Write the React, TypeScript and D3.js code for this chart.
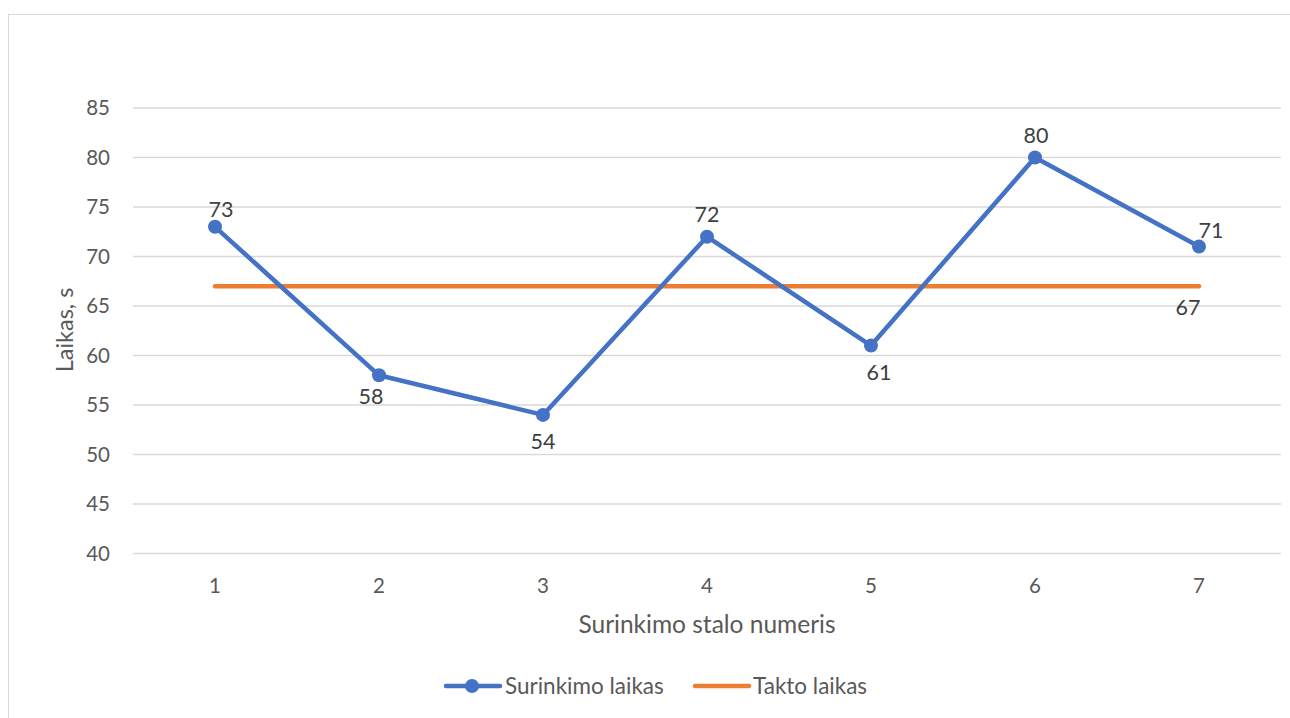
import React from "react";
import * as d3 from "d3";

const categories: string[] = ["1", "2", "3", "4", "5", "6", "7"];
const assemblyTimes: number[] = [73, 58, 54, 72, 61, 80, 71];
const taktTimes: number[] = [67, 67, 67, 67, 67, 67, 67];
const yTicks: number[] = [40, 45, 50, 55, 60, 65, 70, 75, 80, 85];
const seriesNames: string[] = ["Surinkimo laikas", "Takto laikas"];
const xTitle = "Surinkimo stalo numeris";
const yTitle = "Laikas, s";

// label placement for each point of the assembly series
const labelPlacement: { dx: number; dy: number }[] = [
  { dx: 6, dy: -17 },
  { dx: -8, dy: 21 },
  { dx: 0, dy: 27 },
  { dx: 0, dy: -22 },
  { dx: 8, dy: 27 },
  { dx: 1, dy: -22 },
  { dx: 12, dy: -16 },
];

const W = 1290;
const H = 718;
const FONT = "Lato, 'Open Sans', sans-serif";
const TEXT = "#595959";
const LABEL = "#404040";
const BLUE = "#4472C4";
const ORANGE = "#ED7D31";

export default function App() {
  const plotLeft = 133;
  const plotRight = 1281;
  const x = d3.scaleBand<string>().domain(categories).range([plotLeft, plotRight]);
  const cx = (c: string) => (x(c) ?? 0) + x.bandwidth() / 2;
  const y = d3.scaleLinear().domain([40, 85]).range([553.5, 108]);

  const lineGen = d3
    .line<number>()
    .x((_, i) => cx(categories[i]))
    .y((d) => y(d));

  const taktEnd = categories.length - 1;

  return (
    <svg
      width={W}
      height={H}
      style={{ position: "absolute", left: 0, top: 0, background: "#fff" }}
      fontFamily={FONT}
    >
      <rect x={8.5} y={14.5} width={W + 20} height={H + 20} fill="#fff" stroke="#d9d9d9" strokeWidth={1} />

      {/* gridlines */}
      {yTicks.map((t) => (
        <line key={t} x1={plotLeft} x2={plotRight} y1={y(t)} y2={y(t)} stroke="#d9d9d9" strokeWidth={1.3} />
      ))}

      {/* y tick labels */}
      {yTicks.map((t) => (
        <text key={"yl" + t} x={110} y={y(t)} dy="0.35em" textAnchor="end" fontSize={20.5} fill={TEXT}>
          {t}
        </text>
      ))}

      {/* x tick labels */}
      {categories.map((c) => (
        <text key={"xl" + c} x={cx(c)} y={586} dy="0.35em" textAnchor="middle" fontSize={20.5} fill={TEXT}>
          {c}
        </text>
      ))}

      {/* axis titles */}
      <text x={707} y={624} dy="0.35em" textAnchor="middle" fontSize={24.5} fill={TEXT}>
        {xTitle}
      </text>
      <text
        transform={`translate(65,330) rotate(-90)`}
        dy="0.35em"
        textAnchor="middle"
        fontSize={23.5}
        fill={TEXT}
      >
        {yTitle}
      </text>

      {/* takt time line */}
      <path d={lineGen(taktTimes) ?? ""} fill="none" stroke={ORANGE} strokeWidth={4.5} strokeLinecap="round" />
      <text
        x={cx(categories[taktEnd]) - 11}
        y={y(taktTimes[taktEnd]) + 21}
        dy="0.35em"
        textAnchor="middle"
        fontSize={21.5}
        fill={LABEL}
      >
        {taktTimes[taktEnd]}
      </text>

      {/* assembly time line */}
      <path
        d={lineGen(assemblyTimes) ?? ""}
        fill="none"
        stroke={BLUE}
        strokeWidth={4.5}
        strokeLinejoin="round"
        strokeLinecap="round"
      />
      {assemblyTimes.map((v, i) => (
        <circle key={"p" + i} cx={cx(categories[i])} cy={y(v)} r={7} fill={BLUE} />
      ))}
      {assemblyTimes.map((v, i) => (
        <text
          key={"lab" + i}
          x={cx(categories[i]) + labelPlacement[i].dx}
          y={y(v) + labelPlacement[i].dy}
          dy="0.35em"
          textAnchor="middle"
          fontSize={21.5}
          fill={LABEL}
        >
          {v}
        </text>
      ))}

      {/* legend */}
      <g>
        <line x1={446} x2={500} y1={686} y2={686} stroke={BLUE} strokeWidth={4.5} strokeLinecap="round" />
        <circle cx={472} cy={686} r={7} fill={BLUE} />
        <text x={505} y={686} dy="0.35em" fontSize={22.5} fill={TEXT}>
          {seriesNames[0]}
        </text>
        <line x1={695} x2={749} y1={686} y2={686} stroke={ORANGE} strokeWidth={4.5} strokeLinecap="round" />
        <text x={753} y={686} dy="0.35em" fontSize={22.5} fill={TEXT}>
          {seriesNames[1]}
        </text>
      </g>
    </svg>
  );
}
